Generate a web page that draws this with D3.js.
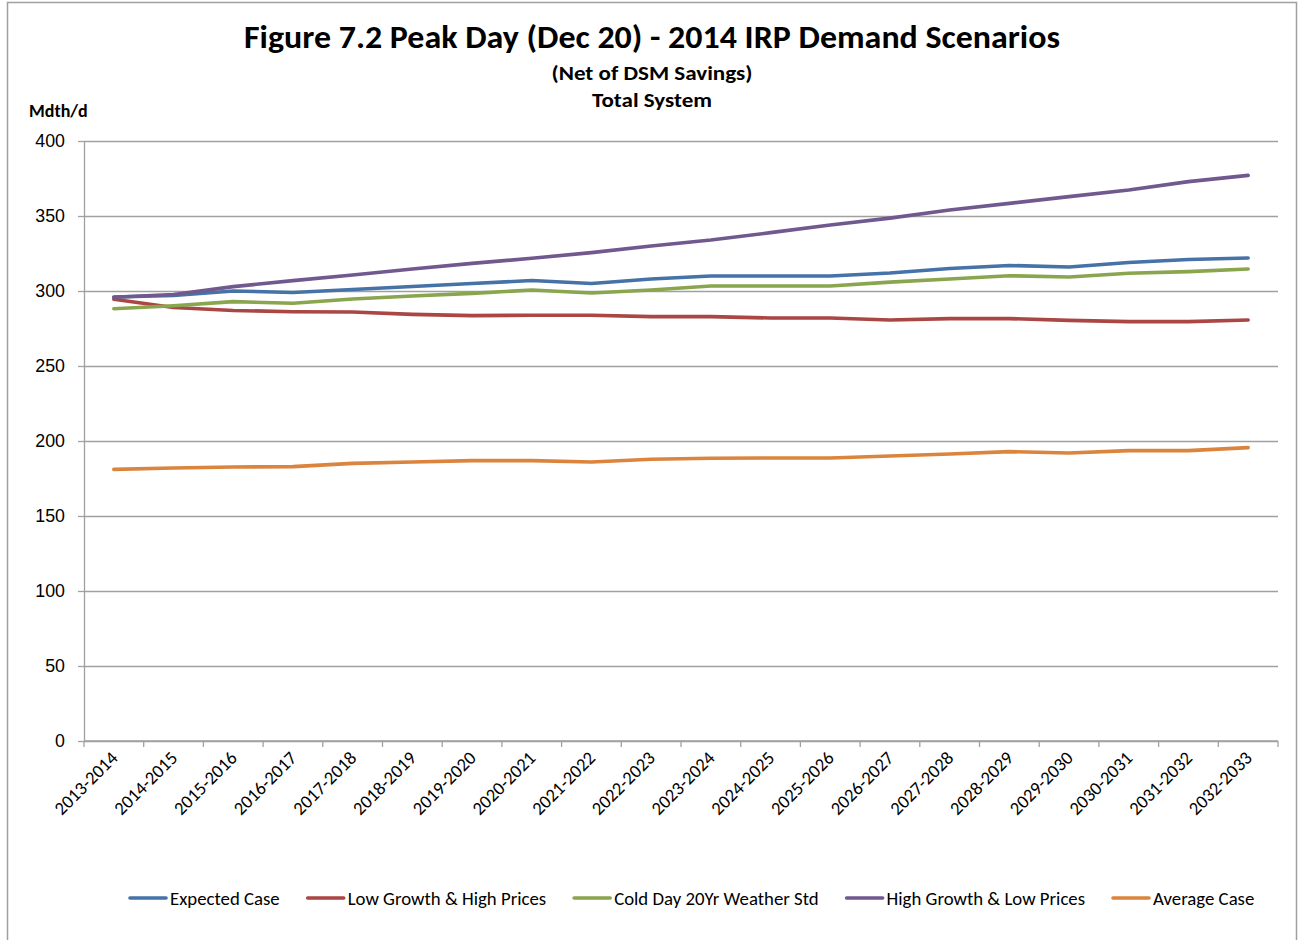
<!DOCTYPE html>
<html>
<head>
<meta charset="utf-8">
<script src="https://cdn.jsdelivr.net/npm/d3@7"></script>
<style>
  html, body { margin: 0; padding: 0; background: #fff; }
  svg { display: block; font-family: Carlito, Lato, "Open Sans", sans-serif; }
</style>
</head>
<body>
<svg id="chart" width="1299" height="940"></svg>
<script>
// Heating seasons on the category axis
const seasons = [
  "2013-2014", "2014-2015", "2015-2016", "2016-2017", "2017-2018",
  "2018-2019", "2019-2020", "2020-2021", "2021-2022", "2022-2023",
  "2023-2024", "2024-2025", "2025-2026", "2026-2027", "2027-2028",
  "2028-2029", "2029-2030", "2030-2031", "2031-2032", "2032-2033"
];

// Peak day demand by scenario, Mdth/d
const expectedCase = [296, 297, 300, 299, 301, 303, 305, 307, 305, 308, 310, 310, 310, 312, 315, 317, 316, 319, 321, 322];
const lowGrowthHighPrices = [294.5, 289, 287, 286.2, 286, 284.4, 283.6, 283.8, 283.8, 282.9, 282.9, 282, 282, 280.7, 281.6, 281.6, 280.4, 279.6, 279.6, 280.7];
const coldDay20Yr = [288.2, 290.2, 292.9, 291.8, 294.7, 296.7, 298.4, 300.7, 298.7, 300.7, 303.3, 303.3, 303.3, 305.9, 308, 310.2, 309.3, 311.8, 312.9, 314.7];
const highGrowthLowPrices = [295.8, 297.7, 302.9, 306.9, 310.7, 314.7, 318.4, 321.8, 325.6, 330, 334, 338.9, 344, 348.6, 354, 358.4, 362.9, 367.3, 372.9, 377.1];
const averageCase = [181.1, 182, 182.7, 182.9, 185.1, 186, 186.9, 186.9, 186, 187.8, 188.5, 188.7, 188.7, 190, 191.3, 192.9, 192, 193.6, 193.6, 195.6];

const seriesNames = ["Expected Case", "Low Growth & High Prices", "Cold Day 20Yr Weather Std", "High Growth & Low Prices", "Average Case"];
const seriesColors = ["#4572A7", "#AA4643", "#89A54E", "#71588F", "#DB843D"];
const yTicks = [0, 50, 100, 150, 200, 250, 300, 350, 400];

const series = [expectedCase, lowGrowthHighPrices, coldDay20Yr, highGrowthLowPrices, averageCase]
  .map((values, i) => ({ name: seriesNames[i], color: seriesColors[i], values }));

const svg = d3.select("#chart");
const plot = { left: 84, right: 1278, top: 141, bottom: 741 };
const axisColor = "#a0a0a0";

// Outer chart frame
svg.append("rect")
  .attr("x", 7.5).attr("y", 2.5)
  .attr("width", 1289).attr("height", 960)
  .attr("fill", "none").attr("stroke", axisColor).attr("stroke-width", 1.5);

const x = d3.scaleBand().domain(seasons).range([plot.left, plot.right]).paddingInner(0).paddingOuter(0);
const y = d3.scaleLinear().domain([0, 400]).range([plot.bottom, plot.top]);
const cx = s => x(s) + x.bandwidth() / 2;

// Horizontal gridlines
svg.append("g")
  .attr("transform", `translate(${plot.left},0)`)
  .call(d3.axisLeft(y).tickValues(yTicks).tickSize(-(plot.right - plot.left)).tickFormat(""))
  .call(g => g.select(".domain").remove())
  .call(g => g.selectAll("line").attr("stroke", axisColor).attr("stroke-width", 1.3));

// Value axis
svg.append("g")
  .attr("transform", `translate(${plot.left},0)`)
  .call(d3.axisLeft(y).tickValues(yTicks).tickSize(6).tickPadding(13).tickSizeOuter(0))
  .call(g => g.select(".domain").attr("stroke", axisColor).attr("stroke-width", 1.3))
  .call(g => g.selectAll("line").attr("stroke", axisColor).attr("stroke-width", 1.3))
  .call(g => g.selectAll("text").attr("font-size", 17.8).attr("fill", "#000"));

// Category axis: tick marks on category boundaries
const boundaries = seasons.map(s => x(s)).concat([plot.right]);
const xAxis = svg.append("g");
xAxis.append("line")
  .attr("x1", plot.left).attr("x2", plot.right)
  .attr("y1", plot.bottom).attr("y2", plot.bottom)
  .attr("stroke", axisColor).attr("stroke-width", 1.3);
xAxis.selectAll("line.tick")
  .data(boundaries)
  .join("line")
  .attr("class", "tick")
  .attr("x1", d => d).attr("x2", d => d)
  .attr("y1", plot.bottom).attr("y2", plot.bottom + 6)
  .attr("stroke", axisColor).attr("stroke-width", 1.3);

// Rotated season labels
xAxis.selectAll("text.lbl")
  .data(seasons)
  .join("text")
  .attr("class", "lbl")
  .attr("transform", d => `translate(${cx(d) + 5},${plot.bottom + 18}) rotate(-45)`)
  .attr("text-anchor", "end")
  .attr("font-size", 18.5)
  .attr("fill", "#000")
  .text(d => d);

// Scenario lines
const line = d3.line()
  .x((d, i) => cx(seasons[i]))
  .y(d => y(d));

svg.append("g")
  .selectAll("path")
  .data(series)
  .join("path")
  .attr("d", d => line(d.values))
  .attr("fill", "none")
  .attr("stroke", d => d.color)
  .attr("stroke-width", 3.6)
  .attr("stroke-linejoin", "round")
  .attr("stroke-linecap", "round");

// Titles
svg.append("text")
  .attr("x", 652).attr("y", 48)
  .attr("text-anchor", "middle")
  .attr("font-size", 33).attr("font-weight", "bold")
  .attr("textLength", 816).attr("lengthAdjust", "spacingAndGlyphs")
  .text("Figure 7.2 Peak Day (Dec 20) - 2014 IRP Demand Scenarios");
svg.append("text")
  .attr("x", 652).attr("y", 80)
  .attr("text-anchor", "middle")
  .attr("font-size", 20.5).attr("font-weight", "bold")
  .attr("textLength", 201).attr("lengthAdjust", "spacingAndGlyphs")
  .text("(Net of DSM Savings)");
svg.append("text")
  .attr("x", 652).attr("y", 107)
  .attr("text-anchor", "middle")
  .attr("font-size", 20.5).attr("font-weight", "bold")
  .attr("textLength", 120).attr("lengthAdjust", "spacingAndGlyphs")
  .text("Total System");
svg.append("text")
  .attr("x", 29).attr("y", 117)
  .attr("font-size", 18).attr("font-weight", "bold")
  .text("Mdth/d");

// Legend laid out left to right from measured label widths
const legend = svg.append("g").attr("transform", "translate(129,898)");
let lx = 0;
series.forEach(s => {
  const item = legend.append("g").attr("transform", `translate(${lx},0)`);
  item.append("line")
    .attr("x1", 1).attr("x2", 37)
    .attr("y1", 0).attr("y2", 0)
    .attr("stroke", s.color).attr("stroke-width", 3.6)
    .attr("stroke-linecap", "round");
  const t = item.append("text")
    .attr("x", 41).attr("y", 0).attr("dy", "0.35em")
    .attr("font-size", 18.8).attr("fill", "#000")
    .text(s.name);
  lx += 41 + t.node().getComputedTextLength() + 27;
});
</script>
</body>
</html>
